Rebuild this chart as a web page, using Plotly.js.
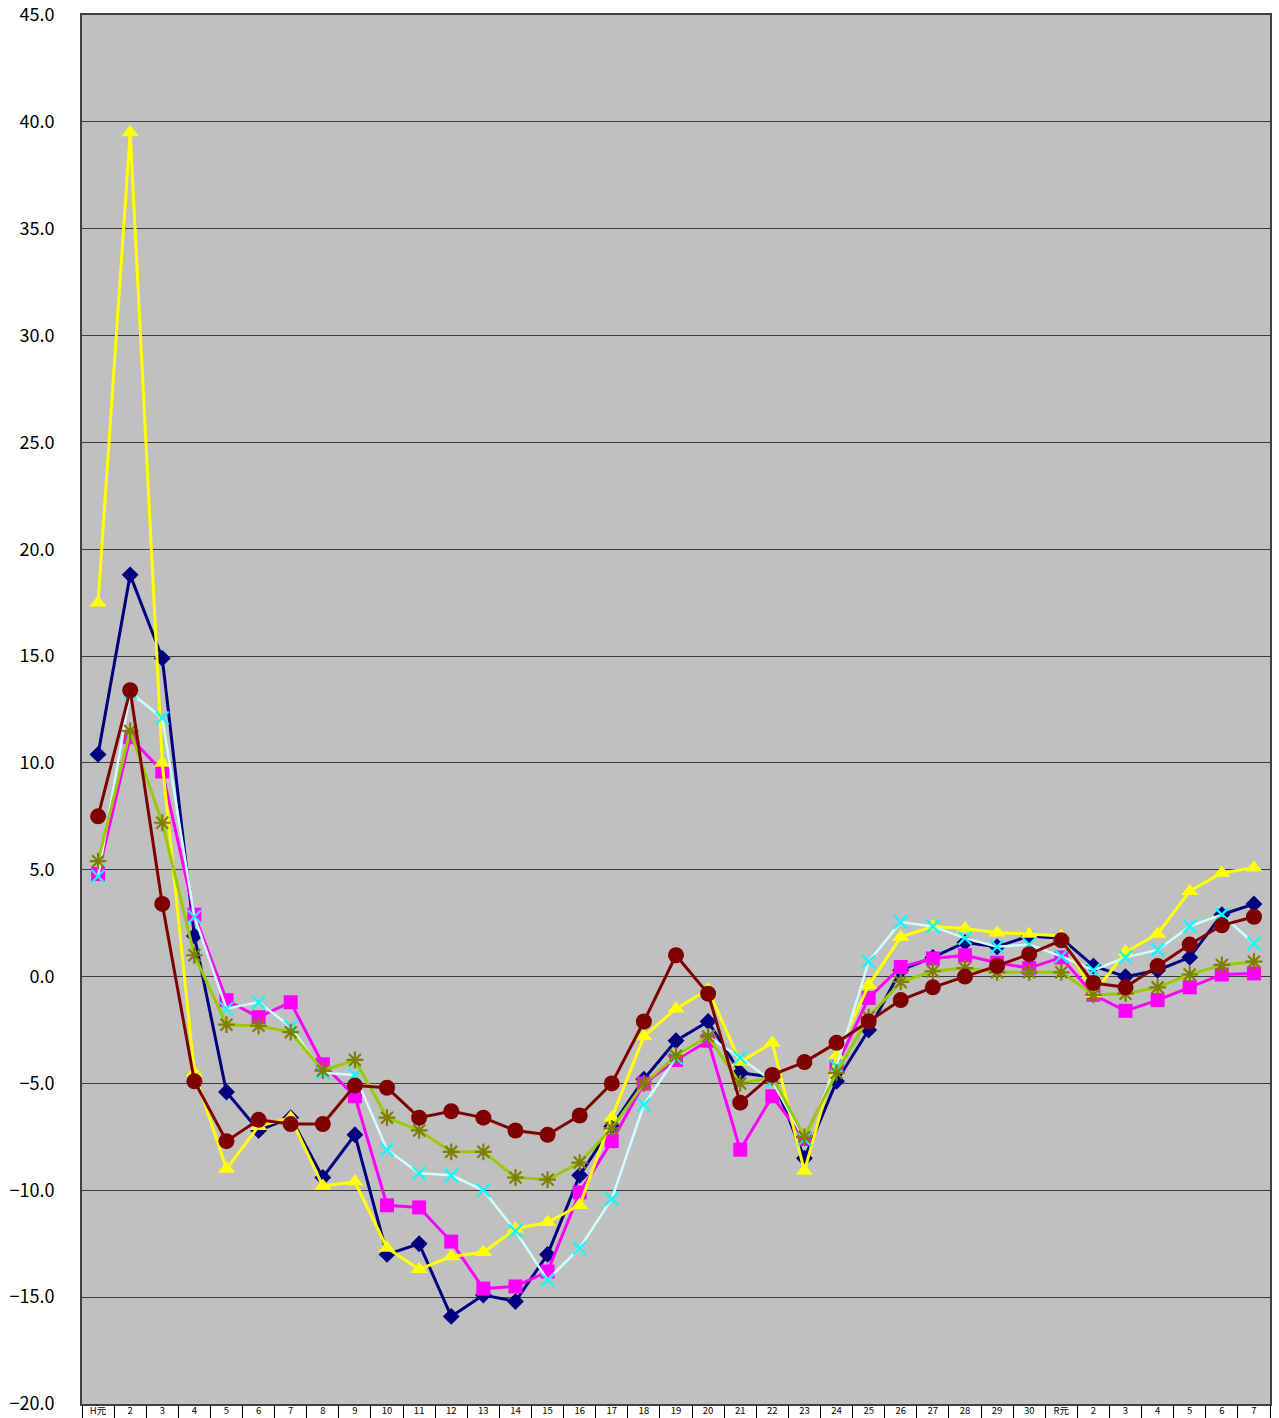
<!DOCTYPE html>
<html>
<head>
<meta charset="utf-8">
<script src="https://cdn.plot.ly/plotly-3.0.1.min.js"></script>
<style>
  html, body { margin: 0; padding: 0; background: #ffffff; }
  #chart { width: 1279px; height: 1418px; }
</style>
</head>
<body>
<div id="chart"></div>
<script>
// Tick labels (years: Heisei 1..30, Reiwa 1..7)
const yearLabels = ['H元','2','3','4','5','6','7','8','9','10','11','12','13','14','15','16','17','18','19','20',
  '21','22','23','24','25','26','27','28','29','30','R元','2','3','4','5','6','7'];

// Series values
const seriesNavy = [10.4, 18.8, 14.9, 1.9, -5.4, -7.2, -6.6, -9.4, -7.4, -13.0, -12.5, -15.9, -14.9, -15.2, -13.0, -9.3, -7.0, -4.8, -3.0, -2.1,
  -4.5, -4.7, -8.5, -4.9, -2.5, 0.3, 0.9, 1.6, 1.4, 1.9, 1.8, 0.5, 0.0, 0.3, 0.9, 2.9, 3.4];
const seriesMagenta = [4.8, 11.2, 9.6, 2.9, -1.1, -1.9, -1.2, -4.1, -5.6, -10.7, -10.8, -12.4, -14.6, -14.5, -13.8, -10.1, -7.7, -5.0, -3.9, -3.0,
  -8.1, -5.6, -7.6, -4.2, -1.0, 0.45, 0.85, 1.0, 0.65, 0.4, 0.9, -0.85, -1.6, -1.1, -0.5, 0.1, 0.15];
const seriesYellow = [17.5, 39.5, 10.0, -4.5, -9.0, -7.0, -6.6, -9.8, -9.6, -12.7, -13.7, -13.1, -12.9, -11.8, -11.5, -10.7, -6.6, -2.8, -1.5, -0.6,
  -4.0, -3.1, -9.1, -3.7, -0.4, 1.85, 2.35, 2.25, 2.05, 2.0, 1.9, -0.8, 1.15, 2.0, 4.0, 4.85, 5.1];
const seriesCyan = [4.7, 13.3, 12.1, 2.8, -1.5, -1.2, -2.35, -4.5, -4.6, -8.1, -9.2, -9.3, -10.0, -11.9, -14.2, -12.7, -10.4, -6.0, -3.8, -2.8,
  -3.8, -4.9, -7.6, -4.2, 0.7, 2.55, 2.35, 1.8, 1.4, 1.5, 0.95, 0.3, 0.9, 1.25, 2.35, 2.9, 1.55];
const seriesOlive = [5.4, 11.5, 7.2, 1.0, -2.25, -2.3, -2.6, -4.4, -3.9, -6.6, -7.2, -8.2, -8.2, -9.4, -9.5, -8.7, -7.1, -5.0, -3.7, -2.8,
  -5.0, -4.7, -7.5, -4.5, -1.9, -0.25, 0.25, 0.4, 0.2, 0.2, 0.2, -0.85, -0.8, -0.5, 0.1, 0.55, 0.7];
const seriesDarkRed = [7.5, 13.4, 3.4, -4.9, -7.7, -6.7, -6.9, -6.9, -5.1, -5.2, -6.6, -6.3, -6.6, -7.2, -7.4, -6.5, -5.0, -2.1, 1.0, -0.8,
  -5.9, -4.6, -4.0, -3.1, -2.1, -1.1, -0.5, 0.0, 0.5, 1.05, 1.7, -0.3, -0.5, 0.5, 1.5, 2.4, 2.8];

const xIdx = yearLabels.map((_, i) => i);

const FONT = '"Noto Sans CJK JP", "Noto Sans", sans-serif';

function tr(y, lineColor, marker, lw) {
  return {
    x: xIdx, y: y, type: 'scatter', mode: 'lines+markers',
    line: { color: lineColor, width: lw || 3 },
    marker: marker, hoverinfo: 'skip'
  };
}

const data = [
  tr(seriesNavy, '#000080', { symbol: 'diamond', size: 13, color: '#000080' }),
  tr(seriesMagenta, '#FF00FF', { symbol: 'square', size: 14, color: '#FF00FF' }),
  tr(seriesYellow, '#FFFF00', { symbol: 'triangle-up', size: 15, color: '#FFFF00' }),
  tr(seriesCyan, '#CCFFFF', { symbol: 'x-thin-open', size: 13, color: '#00FFFF', line: { color: '#00FFFF', width: 2.2 } }, 2.5),
  tr(seriesOlive, '#99CC00', { symbol: 'asterisk-open', size: 14, color: '#808000', line: { color: '#808000', width: 2.2 } }),
  tr(seriesDarkRed, '#800000', { symbol: 'circle', size: 16, color: '#800000' })
];

const layout = {
  width: 1279, height: 1418,
  margin: { l: 82, r: 9, t: 15, b: 14, pad: 0 },
  paper_bgcolor: '#ffffff',
  plot_bgcolor: '#C0C0C0',
  showlegend: false,
  font: { family: FONT, color: '#000000' },
  xaxis: {
    range: [-0.5, 36.5],
    tickmode: 'array',
    tickvals: xIdx,
    ticktext: yearLabels,
    ticks: '',
    ticklabelstandoff: -3,
    tickfont: { size: 9.5, family: FONT },
    showgrid: false,
    zeroline: false,
    showline: true, linecolor: '#404040', linewidth: 2, mirror: true,
    minor: { tick0: 0.5, dtick: 1, ticks: 'outside', ticklen: 14, tickwidth: 1, tickcolor: '#000000', showgrid: false },
    fixedrange: true
  },
  yaxis: {
    range: [-20, 45],
    tick0: 0, dtick: 5,
    tickformat: '.1f',
    ticks: 'inside', ticklen: 6, tickwidth: 1, tickcolor: '#404040',
    ticklabelstandoff: 22,
    tickfont: { size: 18, family: FONT },
    showgrid: true, gridcolor: '#3c3c3c', gridwidth: 1,
    zeroline: true, zerolinecolor: '#3c3c3c', zerolinewidth: 1,
    showline: true, linecolor: '#404040', linewidth: 2, mirror: true,
    fixedrange: true
  }
};

Plotly.newPlot('chart', data, layout, { displayModeBar: false, staticPlot: true });
</script>
</body>
</html>
